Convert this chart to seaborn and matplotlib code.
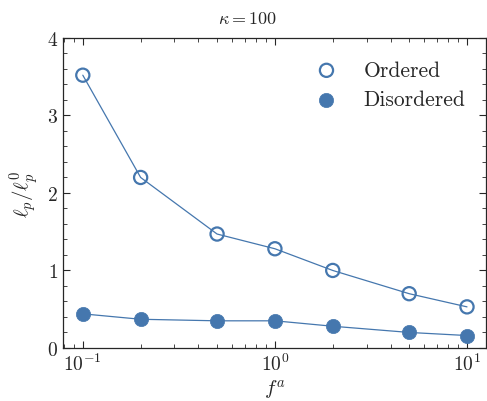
import matplotlib
matplotlib.use("Agg")
import matplotlib.pyplot as plt
import seaborn as sns
import pandas as pd
from matplotlib.ticker import MultipleLocator, LogLocator, NullFormatter

f_a = [0.1, 0.2, 0.5, 1.0, 2.0, 5.0, 10.0]
ordered = [3.52, 2.20, 1.47, 1.28, 1.00, 0.70, 0.53]
disordered = [0.44, 0.37, 0.35, 0.35, 0.28, 0.20, 0.16]

sns.set_style("ticks")
plt.rcParams.update({
    "font.family": "serif",
    "font.serif": ["cmr10", "DejaVu Serif"],
    "mathtext.fontset": "cm",
    "axes.formatter.use_mathtext": True,
    "axes.unicode_minus": False,
})

color = "#4577ae"
df_o = pd.DataFrame({"f": f_a, "y": ordered})
df_d = pd.DataFrame({"f": f_a, "y": disordered})

fig = plt.figure(figsize=(4.87, 4.02), dpi=100)
ax = fig.add_axes([0.129, 0.132, 0.869, 0.771])

sns.lineplot(data=df_o, x="f", y="y", ax=ax, color=color, lw=0.9, zorder=2)
sns.lineplot(data=df_d, x="f", y="y", ax=ax, color=color, lw=0.9, zorder=2)
ax.scatter(f_a, ordered, s=90, facecolors="none", edgecolors=color,
           linewidths=1.6, label="Ordered", zorder=3)
ax.scatter(f_a, disordered, s=105, facecolors=color, edgecolors=color,
           linewidths=0.5, label="Disordered", zorder=3)

ax.set_xscale("log")
ax.set_xlim(0.0787, 12.56)
ax.set_ylim(0, 4)
ax.xaxis.set_minor_locator(LogLocator(base=10, subs=range(2, 10), numticks=20))
ax.xaxis.set_minor_formatter(NullFormatter())
ax.yaxis.set_major_locator(MultipleLocator(1))
ax.yaxis.set_minor_locator(MultipleLocator(0.2))
ax.tick_params(which="both", direction="in", top=True, right=True, labelsize=14)
ax.tick_params(which="major", length=5, width=0.8)
ax.tick_params(which="minor", length=3, width=0.6)
for s in ax.spines.values():
    s.set_linewidth(0.9)

ax.set_xlabel(r"$f^a$", fontsize=15, labelpad=2)
ax.set_ylabel(r"$\ell_p/\ell_p^0$", fontsize=15, labelpad=4)
fig.text(248 / 487, 1 - 19 / 402, r"$\kappa = 100$", fontsize=13,
         ha="center", va="center")

ax.legend(loc="upper right", frameon=False, fontsize=15.5, handletextpad=0.72,
          borderaxespad=0.5, labelspacing=0.45, bbox_to_anchor=(0.997, 0.99))

fig.savefig("out.png", dpi=100)
